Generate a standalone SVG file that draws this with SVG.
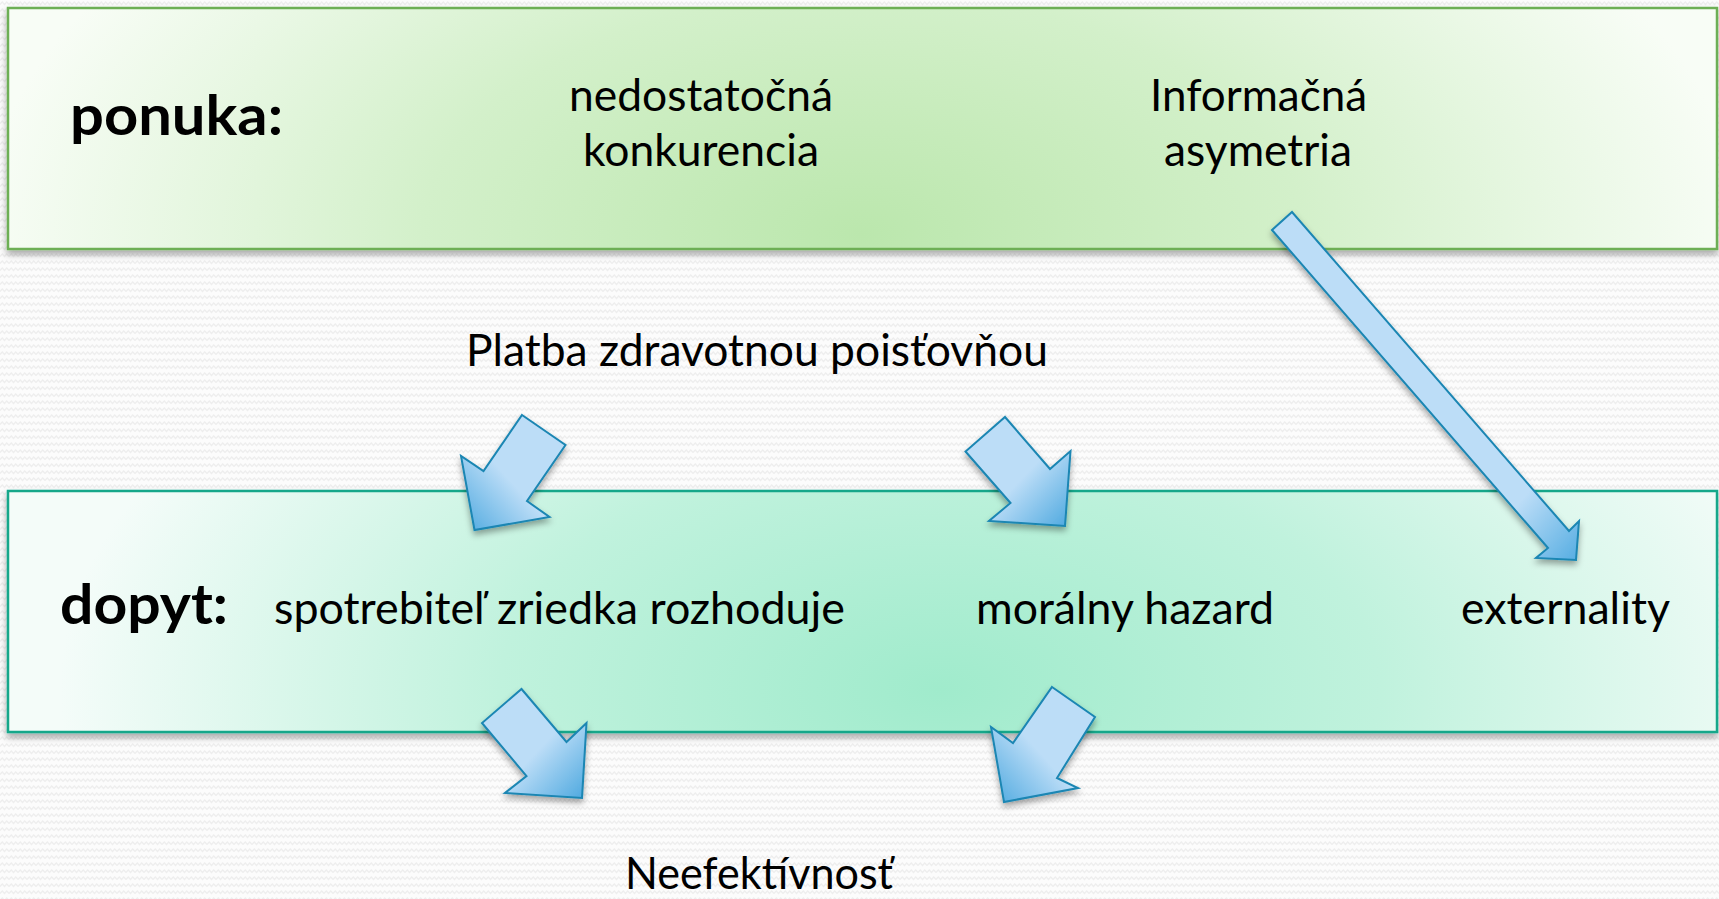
<svg xmlns="http://www.w3.org/2000/svg" width="1719" height="899" viewBox="0 0 1719 899">
  <defs>
    <pattern id="zig" width="9" height="7" patternUnits="userSpaceOnUse">
      <rect width="9" height="7" fill="#FCFCFC"/>
      <path d="M0 4.5 L2.25 2 L4.5 4.5 L6.75 2 L9 4.5" fill="none" stroke="#EEEEEE" stroke-width="1.2"/>
    </pattern>
    <radialGradient id="gTop" gradientUnits="userSpaceOnUse" cx="862" cy="235" r="880" gradientTransform="translate(862 235) scale(1 0.55) translate(-862 -235)">
      <stop offset="0" stop-color="#BBE7AD"/>
      <stop offset="0.5" stop-color="#D3F0CA"/>
      <stop offset="1" stop-color="#F8FDF6"/>
    </radialGradient>
    <radialGradient id="gBot" gradientUnits="userSpaceOnUse" cx="940" cy="690" r="880" gradientTransform="translate(940 690) scale(1 0.55) translate(-940 -690)">
      <stop offset="0" stop-color="#A0EBCC"/>
      <stop offset="0.5" stop-color="#C0F2DD"/>
      <stop offset="1" stop-color="#F4FCF9"/>
    </radialGradient>
    <linearGradient id="gDL" x1="1" y1="0" x2="0" y2="1">
      <stop offset="0" stop-color="#BCDDF7"/>
      <stop offset="0.55" stop-color="#BCDDF7"/>
      <stop offset="1" stop-color="#4CA8DF"/>
    </linearGradient>
    <linearGradient id="gDR" x1="0" y1="0" x2="1" y2="1">
      <stop offset="0" stop-color="#BCDDF7"/>
      <stop offset="0.55" stop-color="#BCDDF7"/>
      <stop offset="1" stop-color="#4CA8DF"/>
    </linearGradient>
    <linearGradient id="gBig" x1="0" y1="0" x2="1" y2="1">
      <stop offset="0" stop-color="#BCDDF7"/>
      <stop offset="0.82" stop-color="#BCDDF7"/>
      <stop offset="1" stop-color="#55ADE2"/>
    </linearGradient>
    <filter id="boxShadow" x="-5%" y="-10%" width="110%" height="125%">
      <feDropShadow dx="0" dy="4" stdDeviation="3.5" flood-color="#000" flood-opacity="0.35"/>
    </filter>
    <filter id="arrShadow" x="-20%" y="-20%" width="140%" height="140%">
      <feDropShadow dx="0" dy="4" stdDeviation="3" flood-color="#000" flood-opacity="0.35"/>
    </filter>
  </defs>
  <style>
    .txt { font-family: Lato, "Open Sans", "Liberation Sans", sans-serif; font-size: 45px; fill: #000; }
    .bold { font-family: Lato, "Open Sans", "Liberation Sans", sans-serif; font-size: 56px; font-weight: bold; fill: #000; }
    .arrow { stroke: #1A86B3; stroke-width: 2; stroke-linejoin: miter; filter: url(#arrShadow); }
    .boxTop { fill: url(#gTop); stroke: #6DAF55; stroke-width: 2.5; filter: url(#boxShadow); }
    .boxBot { fill: url(#gBot); stroke: #17A78A; stroke-width: 2.5; filter: url(#boxShadow); }
  </style>

  <rect width="1719" height="899" fill="url(#zig)"/>

  <g id="ponuka-box">
    <rect class="boxTop" x="8" y="8" width="1709" height="241"/>
    <text class="bold" x="70" y="135" textLength="213" lengthAdjust="spacingAndGlyphs">ponuka:</text>
    <text class="txt" x="569" y="111" textLength="264" lengthAdjust="spacingAndGlyphs">nedostatočná</text>
    <text class="txt" x="583" y="166" textLength="236" lengthAdjust="spacingAndGlyphs">konkurencia</text>
    <text class="txt" x="1150" y="111" textLength="217" lengthAdjust="spacingAndGlyphs">Informačná</text>
    <text class="txt" x="1164" y="166" textLength="188" lengthAdjust="spacingAndGlyphs">asymetria</text>
  </g>

  <g id="platba">
    <text class="txt" x="466" y="366" textLength="582" lengthAdjust="spacingAndGlyphs">Platba zdravotnou poisťovňou</text>
  </g>

  <g id="dopyt-box">
    <rect class="boxBot" x="8" y="491" width="1709" height="241"/>
    <text class="bold" x="60" y="624" textLength="168" lengthAdjust="spacingAndGlyphs">dopyt:</text>
    <text class="txt" x="274" y="624" textLength="571" lengthAdjust="spacingAndGlyphs">spotrebiteľ zriedka rozhoduje</text>
    <text class="txt" x="976" y="624" textLength="298" lengthAdjust="spacingAndGlyphs">morálny hazard</text>
    <text class="txt" x="1461" y="624" textLength="209" lengthAdjust="spacingAndGlyphs">externality</text>
  </g>

  <g id="neefektivnost">
    <text class="txt" x="625" y="889" textLength="268" lengthAdjust="spacingAndGlyphs">Neefektívnosť</text>
  </g>

  <g id="connectors">
    <polygon class="arrow" fill="url(#gDL)" points="522,415 565.5,445 527,501 549.5,517 474.5,530 461,456 483.5,471"/>
    <polygon class="arrow" fill="url(#gDR)" points="1005,417 1050,469 1070.5,451 1065,526 989,521 1010.5,503 965.5,451.5"/>
    <polygon class="arrow" fill="url(#gDR)" points="521.5,689 566.5,742 586.5,723 582,798 505,793 526.5,776 482,723"/>
    <polygon class="arrow" fill="url(#gDL)" points="1052,687 1095,717 1057,778 1078,788 1004,802 991,727 1013,743"/>
    <polygon class="arrow" fill="url(#gBig)" points="1272,230 1292,212 1569,531 1579,521 1576,560 1536,558 1548,548"/>
  </g>
</svg>
